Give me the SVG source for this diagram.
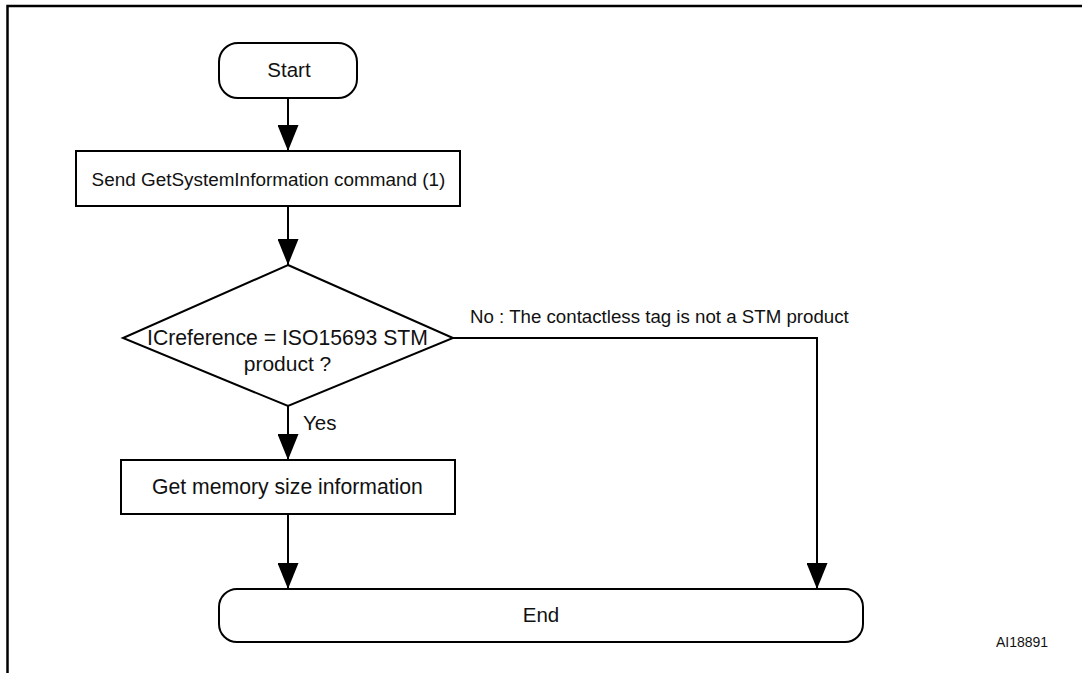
<svg xmlns="http://www.w3.org/2000/svg" width="1082" height="673" viewBox="0 0 1082 673">
<defs>
<marker id="ah" markerWidth="26" markerHeight="21" refX="26" refY="10.5" orient="auto" markerUnits="userSpaceOnUse">
<path d="M0,0 L26,10.5 L0,21 Z" fill="#000"/>
</marker>
</defs>
<style>
.shape{fill:#fff;stroke:#000;stroke-width:2}
.lbl{font-family:"Liberation Sans",Arial,sans-serif;font-size:20.5px;fill:#111}
.conn{fill:none;stroke:#000;stroke-width:2}
</style>
<rect width="1082" height="673" fill="#fff"/>
<path d="M7.5,673 L7.5,6 L1082,6" fill="none" stroke="#000" stroke-width="2.5"/>
<g id="connectors">
<line class="conn" x1="288" y1="98" x2="288" y2="151" marker-end="url(#ah)"/>
<line class="conn" x1="288" y1="206" x2="288" y2="265" marker-end="url(#ah)"/>
<line class="conn" x1="288" y1="406" x2="288" y2="460" marker-end="url(#ah)"/>
<line class="conn" x1="288" y1="514" x2="288" y2="589" marker-end="url(#ah)"/>
<polyline class="conn" points="453,338 817,338 817,589" marker-end="url(#ah)"/>
<text class="lbl" x="303" y="430">Yes</text>
<text class="lbl" x="470" y="323" style="font-size:18.7px">No : The contactless tag is not a STM product</text>
</g>
<g id="start">
<rect class="shape" x="219" y="43" width="138" height="55" rx="19" ry="19"/>
<text class="lbl" x="289" y="77" text-anchor="middle">Start</text>
</g>
<g id="send">
<rect class="shape" x="76" y="151" width="384" height="55"/>
<text class="lbl" x="268.5" y="186" text-anchor="middle" style="font-size:18.9px">Send GetSystemInformation command (1)</text>
</g>
<g id="decision">
<polygon class="shape" points="288,265 453,338 288,406 123,338"/>
<text class="lbl" x="287.5" y="345" text-anchor="middle" style="font-size:21.2px">ICreference = ISO15693 STM</text>
<text class="lbl" x="287.5" y="371" text-anchor="middle" style="font-size:21px">product ?</text>
</g>
<g id="getmem">
<rect class="shape" x="121" y="460" width="334" height="54"/>
<text class="lbl" x="287.5" y="494" text-anchor="middle" style="font-size:21.2px">Get memory size information</text>
</g>
<g id="end">
<rect class="shape" x="219" y="589" width="644" height="53" rx="18" ry="18"/>
<text class="lbl" x="541" y="622" text-anchor="middle">End</text>
</g>
<text x="996" y="647" style="font-family:'Liberation Sans',Arial,sans-serif;font-size:14px;fill:#111">AI18891</text>
</svg>
